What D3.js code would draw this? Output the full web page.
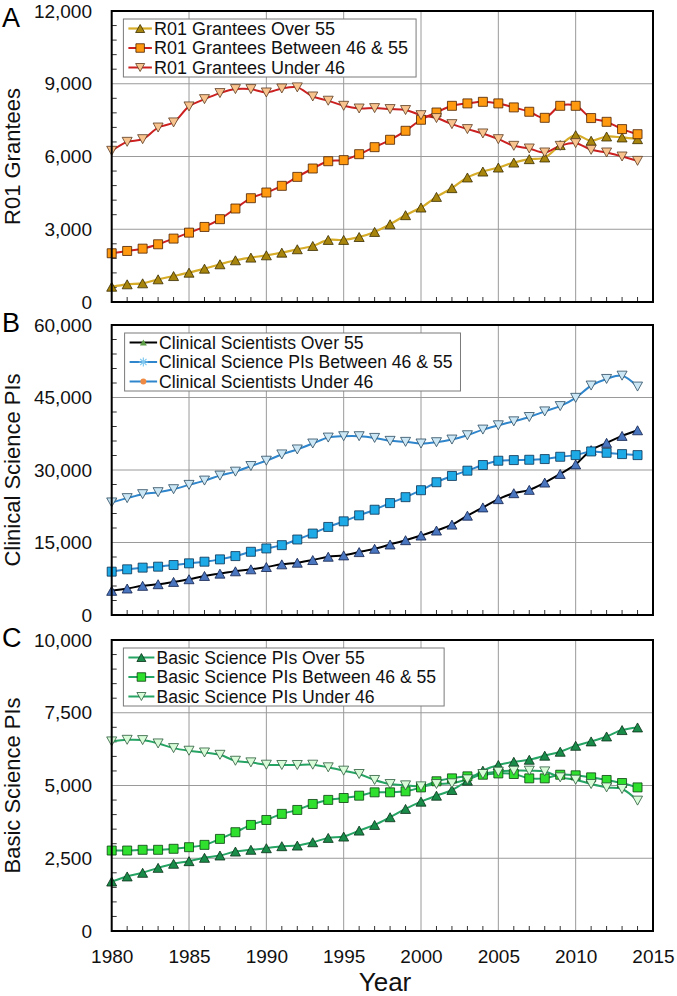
<!DOCTYPE html>
<html><head><meta charset="utf-8">
<script src="https://cdn.jsdelivr.net/npm/d3@7"></script>
<style>
html,body{margin:0;padding:0;background:#fff;}
svg{display:block;font-family:"Liberation Sans",Arial,sans-serif;}
</style></head>
<body>
<svg id="c" width="677" height="996"></svg>
<script>
const years = [1980,1981,1982,1983,1984,1985,1986,1987,1988,1989,1990,1991,1992,1993,1994,1995,1996,1997,1998,1999,2000,2001,2002,2003,2004,2005,2006,2007,2008,2009,2010,2011,2012,2013,2014];
const xTicks = [1980,1985,1990,1995,2000,2005,2010,2015];

// Panel A: R01 Grantees
const r01Over55 = [630,730,770,935,1070,1210,1375,1555,1720,1830,1925,2035,2175,2310,2560,2560,2680,2890,3205,3580,3895,4335,4695,5135,5380,5545,5750,5890,5960,6470,6880,6650,6825,6785,6715];
const r01Between = [2010,2105,2200,2380,2615,2860,3095,3415,3855,4280,4515,4790,5160,5505,5805,5850,6095,6385,6690,7060,7515,7815,8090,8190,8255,8190,8025,7845,7595,8090,8090,7585,7430,7130,6920];
const r01Under46 = [6235,6605,6715,7195,7405,8065,8365,8615,8780,8780,8640,8805,8850,8475,8300,8090,7980,7995,7955,7915,7705,7585,7335,7130,6950,6715,6440,6330,6165,6440,6550,6275,6165,6000,5820];
const r01Ticks = [0,3000,6000,9000,12000];

// Panel B: Clinical Science PIs
const clinOver55 = [5000,5480,6030,6370,6850,7400,8080,8560,9040,9450,9930,10480,10820,11370,12055,12330,13015,13700,14590,15480,16440,17470,18700,20550,22260,23970,25200,25890,27400,29180,31160,34110,35620,37055,38220];
const clinBetween = [8970,9450,9800,10000,10340,10690,11030,11510,12190,13080,13770,14450,15620,16850,18220,19380,20620,21780,23150,24380,25820,27470,28770,29860,31030,31920,32050,32120,32260,32740,33080,33840,33560,33290,33080];
const clinUnder46 = [23290,24180,25000,25410,26030,26920,27810,28840,29660,30820,31920,33220,34250,35480,36710,36990,36990,36640,36030,35820,35480,35750,36300,37190,38360,39250,40070,40960,42120,43220,44930,47470,48840,49520,47260];
const clinTicks = [0,15000,30000,45000,60000];

// Panel C: Basic Science PIs
const basicOver55 = [1700,1875,2000,2170,2310,2400,2515,2595,2730,2790,2845,2915,2935,3050,3200,3245,3450,3645,3910,4195,4445,4650,4845,5165,5510,5705,5815,5885,6025,6160,6365,6515,6685,6905,6995];
const basicBetween = [2765,2765,2790,2790,2825,2880,2960,3165,3395,3645,3815,4025,4160,4365,4505,4570,4650,4765,4765,4800,4935,5145,5245,5315,5370,5415,5395,5245,5245,5370,5350,5280,5190,5085,4935];
const basicUnder46 = [6515,6570,6560,6445,6285,6195,6135,6055,5850,5795,5715,5705,5705,5715,5625,5510,5395,5190,5050,5005,4970,5050,5075,5210,5395,5475,5510,5510,5485,5280,5200,5050,4935,4880,4480];
const basicTicks = [0,2500,5000,7500,10000];

const svg = d3.select("#c");
const X0 = 111.7, X1 = 653;
const x = d3.scaleLinear().domain([1980, 2015]).range([X0, X1]);

function triUp(w, h) { return `M0,${-h/2}L${w/2},${h/2}L${-w/2},${h/2}Z`; }
function triDown(w, h) { return `M0,${h/2}L${w/2},${-h/2}L${-w/2},${-h/2}Z`; }
function square(s) { return `M${-s/2},${-s/2}h${s}v${s}h${-s}Z`; }
function asterisk(s) {
  const r = s/2, d = r*0.707;
  return `M${-r},0H${r}M0,${-r}V${r}M${-d},${-d}L${d},${d}M${-d},${d}L${d},${-d}`;
}

const panels = [
  {letter:"A", title:"R01 Grantees", top:11, bottom:302, max:12000, ticks:r01Ticks, minor:600,
   legendLeft:123.4, textOff:30.5, fontLegend:18,
   series:[
     {name:"R01 Grantees Over 55", values:r01Over55, line:"#d6ac28", lw:2.2, shape:triUp(10,9), fill:"#a8850c", stroke:"#3a2c00",
      leg:{shape:triUp(9,8), fill:"#a8850c", stroke:"#3a2c00", sw:0.8}},
     {name:"R01 Grantees Between 46 & 55", values:r01Between, line:"#cc2020", lw:2, shape:square(9), fill:"#ff9a10", stroke:"#4a2000",
      leg:{shape:square(8.5), fill:"#ff9a10", stroke:"#4a2000", sw:0.8}},
     {name:"R01 Grantees Under 46", values:r01Under46, line:"#cc2020", lw:2, shape:triDown(10,9), fill:"#f9c38e", stroke:"#5a3a20",
      leg:{shape:triDown(9,8), fill:"#f9c38e", stroke:"#5a3a20", sw:0.8}}
   ]},
  {letter:"B", title:"Clinical Science PIs", top:325, bottom:615, max:60000, ticks:clinTicks, minor:3000,
   legendLeft:124.6, textOff:34.5, fontLegend:17.6,
   series:[
     {name:"Clinical Scientists Over 55", values:clinOver55, line:"#000000", lw:2, shape:triUp(10,9), fill:"#4a76bf", stroke:"#10204a",
      leg:{shape:triUp(7,6), fill:"#5e9e48", stroke:"none", sw:0}},
     {name:"Clinical Science PIs Between 46 & 55", values:clinBetween, line:"#2f86cc", lw:2, shape:square(9), fill:"#1eaae6", stroke:"#0a3050",
      leg:{shape:asterisk(9), fill:"none", stroke:"#80c8f0", sw:1.2}},
     {name:"Clinical Scientists Under 46", values:clinUnder46, line:"#2f86cc", lw:2, shape:triDown(10,9), fill:"#cbe6f4", stroke:"#2a4a60",
      leg:{shape:"circle", fill:"#ee8a44", stroke:"none", sw:0}}
   ]},
  {letter:"C", title:"Basic Science PIs", top:640, bottom:931, max:10000, ticks:basicTicks, minor:500,
   legendLeft:123.4, textOff:33, fontLegend:17.6,
   series:[
     {name:"Basic Science PIs Over 55", values:basicOver55, line:"#26a463", lw:2, shape:triUp(10,9), fill:"#1a8c4a", stroke:"#0a3018",
      leg:{shape:triUp(9,8), fill:"#1a8c4a", stroke:"#0a3018", sw:0.8}},
     {name:"Basic Science PIs Between 46 & 55", values:basicBetween, line:"#26a463", lw:2, shape:square(9), fill:"#2fe02f", stroke:"#0a4010",
      leg:{shape:square(8.5), fill:"#2fe02f", stroke:"#0a4010", sw:0.8}},
     {name:"Basic Science PIs Under 46", values:basicUnder46, line:"#26a463", lw:2, shape:triDown(10,9), fill:"#d8fbd8", stroke:"#2a5a3a",
      leg:{shape:triDown(9,8), fill:"#d8fbd8", stroke:"#2a5a3a", sw:0.8}}
   ]}
];

panels.forEach((p, pi) => {
  const y = d3.scaleLinear().domain([0, p.max]).range([p.bottom, p.top]);
  const g = svg.append("g");

  // gridlines vertical
  g.selectAll(".vg").data(xTicks.filter(t => t > 1980 && t < 2015)).join("line")
    .attr("x1", d => x(d)).attr("x2", d => x(d)).attr("y1", p.top).attr("y2", p.bottom)
    .attr("stroke", "#9a9a9a").attr("stroke-width", 1);
  // gridlines horizontal
  g.selectAll(".hg").data(p.ticks.filter(t => t > 0 && t < p.max)).join("line")
    .attr("x1", X0).attr("x2", X1).attr("y1", d => y(d)).attr("y2", d => y(d))
    .attr("stroke", "#9a9a9a").attr("stroke-width", 1);

  // minor ticks y
  const minors = d3.range(p.minor, p.max, p.minor).filter(v => p.ticks.indexOf(v) < 0);
  g.selectAll(".my").data(minors).join("line")
    .attr("x1", X0).attr("x2", X0 + 5).attr("y1", d => y(d)).attr("y2", d => y(d))
    .attr("stroke", "#333").attr("stroke-width", 1);
  // minor ticks x (each year)
  g.selectAll(".mx").data(years.filter(v => xTicks.indexOf(v) < 0)).join("line")
    .attr("x1", d => x(d)).attr("x2", d => x(d)).attr("y1", p.bottom).attr("y2", p.bottom - 5)
    .attr("stroke", "#333").attr("stroke-width", 1);

  // y axis labels via d3 axis
  const yAxis = d3.axisLeft(y).tickValues(p.ticks).tickFormat(d3.format(",")).tickSize(0).tickPadding(0);
  const ya = g.append("g").attr("transform", `translate(92,0)`).call(yAxis);
  ya.select(".domain").remove();
  ya.selectAll("text").attr("font-size", 19).attr("font-family", "Liberation Sans, Arial, sans-serif").attr("fill", "#111");

  // y title
  g.append("text").attr("transform", `translate(20,${(p.top + p.bottom) / 2}) rotate(-90)`)
    .attr("text-anchor", "middle").attr("font-size", 22).attr("fill", "#111").text(p.title);

  // panel letter
  g.append("text").attr("x", 2).attr("y", p.top + (pi === 0 ? 16 : 7)).attr("font-size", 27).attr("fill", "#000").text(p.letter);

  // series lines and markers
  p.series.forEach(s => {
    const line = d3.line().x((d, i) => x(years[i])).y(d => y(d)).curve(d3.curveCatmullRom.alpha(0.5));
    g.append("path").datum(s.values).attr("d", line).attr("fill", "none")
      .attr("stroke", s.line).attr("stroke-width", s.lw);
  });
  p.series.forEach(s => {
    g.selectAll(null).data(s.values).join("path")
      .attr("transform", (d, i) => `translate(${x(years[i])},${y(d)})`)
      .attr("d", s.shape).attr("fill", s.fill).attr("stroke", s.stroke).attr("stroke-width", 0.8);
  });

  // frame
  g.append("rect").attr("x", X0).attr("y", p.top).attr("width", X1 - X0).attr("height", p.bottom - p.top)
    .attr("fill", "none").attr("stroke", "#000").attr("stroke-width", 2);

  // legend
  const lg = g.append("g");
  const L = p.legendLeft;
  const rows = [p.top + 17.5, p.top + 37, p.top + 56.5];
  const box = lg.append("rect").attr("fill", "#fff").attr("stroke", "#7a7a7a").attr("stroke-width", 1);
  let maxW = 0;
  p.series.forEach((s, i) => {
    const ry = rows[i];
    lg.append("line").attr("x1", L + 5).attr("x2", L + p.textOff - 2).attr("y1", ry).attr("y2", ry)
      .attr("stroke", s.line).attr("stroke-width", s.lw);
    const cx = L + 5 + (p.textOff - 7) / 2;
    if (s.leg.shape === "circle") {
      lg.append("circle").attr("cx", cx).attr("cy", ry).attr("r", 3).attr("fill", s.leg.fill);
    } else {
      lg.append("path").attr("transform", `translate(${cx},${ry})`).attr("d", s.leg.shape)
        .attr("fill", s.leg.fill).attr("stroke", s.leg.stroke).attr("stroke-width", s.leg.sw);
    }
    const t = lg.append("text").attr("x", L + p.textOff).attr("y", ry).attr("dy", "0.36em")
      .attr("font-size", p.fontLegend).attr("fill", "#111").text(s.name);
    maxW = Math.max(maxW, t.node().getComputedTextLength());
  });
  box.attr("x", L).attr("y", p.top + 8).attr("width", p.textOff + maxW + 8).attr("height", 58);

  // x labels only for last panel
  if (pi === 2) {
    const xAxis = d3.axisBottom(x).tickValues(xTicks).tickFormat(d3.format("d")).tickSize(0).tickPadding(0);
    const xa = g.append("g").attr("transform", `translate(0,${p.bottom + 18})`).call(xAxis);
    xa.select(".domain").remove();
    xa.selectAll("text").attr("font-size", 19).attr("font-family", "Liberation Sans, Arial, sans-serif").attr("fill", "#111").attr("dy", "0.71em").attr("y", 0);
    g.append("text").attr("x", 385).attr("y", 991).attr("text-anchor", "middle").attr("font-size", 26).attr("fill", "#111").text("Year");
  }
});
</script>
</body></html>
